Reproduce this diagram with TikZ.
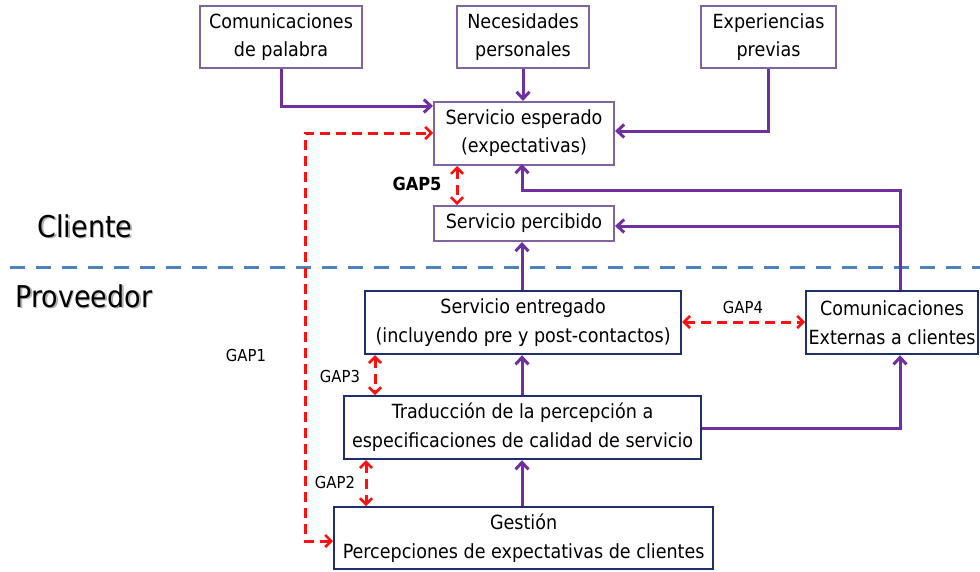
\documentclass[tikz,border=0pt]{standalone}
\usepackage{fontspec}
\setmainfont{DejaVu Sans Condensed}
\usetikzlibrary{arrows.meta,calc}
\definecolor{boxpurple}{HTML}{8064A2}
\definecolor{flowpurple}{HTML}{7030A0}
\definecolor{navy}{HTML}{1F2F6B}
\definecolor{gapred}{HTML}{FF1010}
\definecolor{splitblue}{HTML}{4F81BD}
\tikzset{
  clientbox/.style={draw=boxpurple,line width=2pt,fill=white,anchor=north west,align=center,
    font=\fontsize{19.5}{28}\selectfont,inner sep=0pt},
  provbox/.style={draw=navy,line width=2.2pt,fill=white,anchor=north west,align=center,
    font=\fontsize{19.5}{29}\selectfont,inner sep=0pt},
  flow/.style={draw=flowpurple,line width=3pt,-{Straight Barb[length=7pt,width=13pt,line width=3pt]}},
  gap/.style={draw=gapred,line width=3pt,dash pattern=on 10pt off 6pt,
    {Straight Barb[length=6pt,width=12pt,line width=2.6pt]}-{Straight Barb[length=6pt,width=12pt,line width=2.6pt]}},
  gaplabel/.style={font=\fontsize{16.5}{20}\selectfont},
  sidelabel/.style={font=\fontsize{30}{34}\selectfont},
}
\begin{document}
\begin{tikzpicture}[x=1pt,y=-1pt]
\useasboundingbox (0,0) rectangle (980,571);

% client side
\node[clientbox,minimum width=162pt,minimum height=62pt] (pal) at (199,5) {Comunicaciones\\de palabra};
\node[clientbox,minimum width=132pt,minimum height=62pt] (nec) at (456,5) {Necesidades\\personales};
\node[clientbox,minimum width=135pt,minimum height=62pt] (exp) at (700,5) {Experiencias\\previas};
\node[clientbox,minimum width=180pt,minimum height=63pt] (esp) at (433,101) {Servicio esperado\\(expectativas)};
\node[clientbox,minimum width=180pt,minimum height=35pt] (per) at (433,205) {Servicio percibido};

% provider side
\node[provbox,minimum width=316pt,minimum height=63pt] (ent) at (364,290) {Servicio entregado\\(incluyendo pre y post-contactos)};
\node[provbox,minimum width=172pt,minimum height=63pt] (ext) at (805,290) {Comunicaciones\\Externas a clientes};
\node[provbox,minimum width=357pt,minimum height=63pt] (tra) at (343,395) {Traducción de la percepción a\\especificaciones de calidad de servicio};
\node[provbox,minimum width=379pt,minimum height=62pt] (ges) at (333,506) {Gestión\\Percepciones de expectativas de clientes};

% split between client and provider
\draw[splitblue,line width=3pt,dash pattern=on 15pt off 11pt] (10,267) -- (980,267);
\node[sidelabel,text=black!30] at (86.5,227.5) {Cliente};
\node[sidelabel] (cli) at (85,226) {Cliente};
\node[sidelabel,text=black!30] at (85.5,297.5) {Proveedor};
\node[sidelabel] (prov) at (84,296) {Proveedor};

% influences on expected service
\draw[flow] (pal.south) |- (esp.west |- 0,106);
\draw[flow] (nec.south) -- (nec.south |- esp.north);
\draw[flow] (exp.south) |- (esp.east |- 0,131);

% external communications feeding the client side
\coordinate (up) at (900,190);
\draw[flow] (ext.north -| up) |- (522,190) -- (522,164);
\draw[flow] (900,226) -- (per.east |- 0,226);

% internal chain
\draw[flow] (ent.north -| 522,0) -- (per.south -| 522,0);
\draw[flow] (tra.north -| 522,0) -- (ent.south -| 522,0);
\draw[flow] (ges.north -| 522,0) -- (tra.south -| 522,0);
\draw[flow] (tra.east |- 0,428) -| (ext.south -| up);

% gaps
\draw[gap] (ges.west |- 0,541) -- (305,541) |- (esp.west |- 0,133);
\node[gaplabel] (g1) at (246,355) {GAP1};
\draw[gap] (esp.south -| 457,0) -- (per.north -| 457,0);
\node[gaplabel,font=\bfseries\fontsize{18}{20}\selectfont] (g5) at (417,184) {GAP5};
\draw[gap] (ent.east |- 0,322) -- (ext.west |- 0,322);
\node[gaplabel] (g4) at (743,307) {GAP4};
\draw[gap] (ent.south -| 375,0) -- (tra.north -| 375,0);
\node[gaplabel] (g3) at (340,376) {GAP3};
\draw[gap] (tra.south -| 366,0) -- (ges.north -| 366,0);
\node[gaplabel] (g2) at (335,482) {GAP2};
\end{tikzpicture}
\end{document}
